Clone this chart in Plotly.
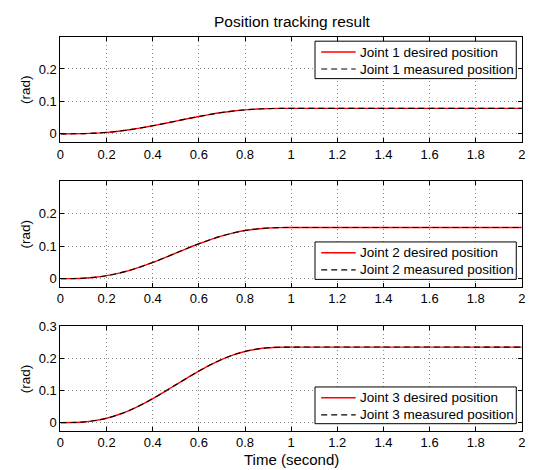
import plotly.graph_objects as go

# ---- data ----
time = [0.0, 0.05, 0.1, 0.15, 0.2, 0.25, 0.3, 0.35, 0.4, 0.45, 0.5,
        0.55, 0.6, 0.65, 0.7, 0.75, 0.8, 0.85, 0.9, 0.95, 1.0, 2.0]

joint1_desired = [0, 0.0001, 0.0007, 0.0021, 0.0045, 0.0081, 0.0128, 0.0185, 0.0249, 0.0319, 0.0393,
                  0.0466, 0.0536, 0.0601, 0.0657, 0.0704, 0.0739, 0.0764, 0.0778, 0.0784, 0.0785, 0.0785]
joint1_measured = [0, 0.0001, 0.0007, 0.0021, 0.0045, 0.0081, 0.0128, 0.0185, 0.0249, 0.0319, 0.0393,
                   0.0466, 0.0536, 0.0601, 0.0657, 0.0704, 0.0739, 0.0764, 0.0778, 0.0784, 0.0785, 0.0785]
joint2_desired = [0, 0.0002, 0.0013, 0.0042, 0.0091, 0.0163, 0.0256, 0.0369, 0.0498, 0.0639, 0.0785,
                  0.0931, 0.1072, 0.1201, 0.1314, 0.1407, 0.1479, 0.1528, 0.1557, 0.1569, 0.1571, 0.1571]
joint2_measured = [0, 0.0002, 0.0013, 0.0042, 0.0091, 0.0163, 0.0256, 0.0369, 0.0498, 0.0639, 0.0785,
                   0.0931, 0.1072, 0.1201, 0.1314, 0.1407, 0.1479, 0.1528, 0.1557, 0.1569, 0.1571, 0.1571]
joint3_desired = [0, 0.0003, 0.0020, 0.0063, 0.0136, 0.0244, 0.0384, 0.0554, 0.0747, 0.0959, 0.1178,
                  0.1397, 0.1609, 0.1802, 0.1972, 0.2112, 0.2219, 0.2293, 0.2336, 0.2353, 0.2356, 0.2356]
joint3_measured = [0, 0.0003, 0.0020, 0.0063, 0.0136, 0.0244, 0.0384, 0.0554, 0.0747, 0.0959, 0.1178,
                   0.1397, 0.1609, 0.1802, 0.1972, 0.2112, 0.2219, 0.2293, 0.2336, 0.2353, 0.2356, 0.2356]

x_tickvals = [0, 0.2, 0.4, 0.6, 0.8, 1.0, 1.2, 1.4, 1.6, 1.8, 2.0]
x_ticktext = ["0", "0.2", "0.4", "0.6", "0.8", "1", "1.2", "1.4", "1.6", "1.8", "2"]
y_tickvals_12 = [0, 0.1, 0.2]
y_ticktext_12 = ["0", "0.1", "0.2"]
y_tickvals_3 = [0, 0.1, 0.2, 0.3]
y_ticktext_3 = ["0", "0.1", "0.2", "0.3"]

joint_names = ["Joint 1", "Joint 2", "Joint 3"]
desired_label = "desired position"
measured_label = "measured position"

desired = [joint1_desired, joint2_desired, joint3_desired]
measured = [joint1_measured, joint2_measured, joint3_measured]

FONT = "Liberation Sans, Arial, Helvetica, sans-serif"
W, H = 538, 470
RED = "#ff0000"
DASH = "6px,4px"


def px(x):
    return x / W


def py(y):
    return 1 - y / H


fig = go.Figure()

x_dom = [px(57.3), px(525.7)]
panels_px = [(30, 137), (176.7, 284), (324.3, 430)]

for i in range(3):
    xa = "x" if i == 0 else f"x{i+1}"
    ya = "y" if i == 0 else f"y{i+1}"
    fig.add_trace(go.Scatter(x=time, y=desired[i], mode="lines",
                             line=dict(color=RED, width=1.4, shape="spline"),
                             name=f"{joint_names[i]} {desired_label}", xaxis=xa, yaxis=ya, showlegend=False))
    fig.add_trace(go.Scatter(x=time, y=measured[i], mode="lines",
                             line=dict(color="#000000", width=1.1, dash=DASH, shape="spline"),
                             name=f"{joint_names[i]} {measured_label}", xaxis=xa, yaxis=ya, showlegend=False))

layout = dict(
    width=W, height=H,
    margin=dict(l=0, r=0, t=0, b=0),
    paper_bgcolor="white", plot_bgcolor="white",
    font=dict(family=FONT, size=13, color="black"),
    showlegend=False,
)

axis_common = dict(showline=True, linecolor="black", linewidth=1, mirror="ticks",
                   ticks="inside", ticklen=4, tickcolor="black",
                   showgrid=True, gridcolor="#8a8a8a", griddash="1px,3px", gridwidth=1,
                   zeroline=False, tickfont=dict(size=13, color="black"))

for i in range(3):
    top, bot = panels_px[i]
    dom = [py(bot), py(top)]
    xkey = "xaxis" if i == 0 else f"xaxis{i+1}"
    ykey = "yaxis" if i == 0 else f"yaxis{i+1}"
    anchor_x = "y" if i == 0 else f"y{i+1}"
    anchor_y = "x" if i == 0 else f"x{i+1}"
    layout[xkey] = dict(domain=x_dom, anchor=anchor_x, range=[0, 2],
                        tickvals=x_tickvals, ticktext=x_ticktext, **axis_common)
    tv = y_tickvals_3 if i == 2 else y_tickvals_12
    tt = y_ticktext_3 if i == 2 else y_ticktext_12
    layout[ykey] = dict(domain=dom, anchor=anchor_y, range=[-0.025, 0.3],
                        tickvals=tv, ticktext=tt, **axis_common)

fig.update_layout(**layout)

# ---- legend boxes (one per panel, drawn like the MATLAB legends) ----
legend_boxes = [(34.7, 72.7), (238.5, 276.5), (385.7, 423.0)]
leg_left, leg_right = 315.7, 520.0
shapes = []
annotations = []
for i in range(3):
    t, b = legend_boxes[i]
    shapes.append(dict(type="rect", xref="paper", yref="paper",
                       x0=px(leg_left), x1=px(leg_right), y0=py(b), y1=py(t),
                       line=dict(color="black", width=1), fillcolor="white", layer="above"))
    r1 = t + 11.0
    r2 = t + 28.3
    shapes.append(dict(type="line", xref="paper", yref="paper",
                       x0=px(322), x1=px(357), y0=py(r1), y1=py(r1),
                       line=dict(color=RED, width=1.4), layer="above"))
    shapes.append(dict(type="line", xref="paper", yref="paper",
                       x0=px(322), x1=px(357), y0=py(r2), y1=py(r2),
                       line=dict(color="black", width=1.1, dash=DASH), layer="above"))
    annotations.append(dict(text=f"{joint_names[i]} {desired_label}", x=px(359.5), y=py(r1),
                            xref="paper", yref="paper", showarrow=False,
                            xanchor="left", yanchor="middle", font=dict(size=13.5)))
    annotations.append(dict(text=f"{joint_names[i]} {measured_label}", x=px(359.5), y=py(r2),
                            xref="paper", yref="paper", showarrow=False,
                            xanchor="left", yanchor="middle", font=dict(size=13.5)))

annotations.append(dict(text="Position tracking result", x=px(293), y=py(15), xref="paper", yref="paper",
                        showarrow=False, font=dict(size=15.5), xanchor="center", yanchor="middle"))
annotations.append(dict(text="Time (second)", x=px(291.5), y=py(459), xref="paper", yref="paper",
                        showarrow=False, font=dict(size=15), xanchor="center", yanchor="middle"))
for i in range(3):
    top, bot = panels_px[i]
    annotations.append(dict(text="(rad)", x=px(22), y=py((top + bot) / 2), xref="paper", yref="paper",
                            showarrow=False, textangle=-90, font=dict(size=13.5),
                            xanchor="center", yanchor="middle"))

fig.update_layout(shapes=shapes, annotations=annotations)

fig.write_html("out.html",
               config={"displayModeBar": False},
               post_script="document.body.style.margin='0';document.body.style.overflow='hidden';")
